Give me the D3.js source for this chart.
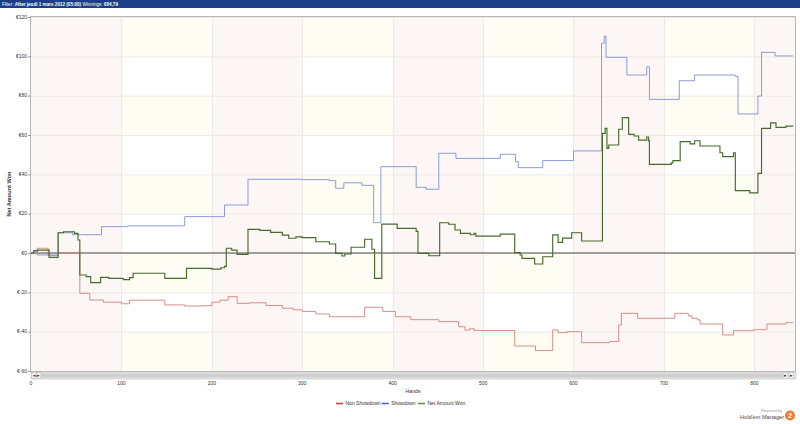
<!DOCTYPE html>
<html><head><meta charset="utf-8">
<script src="https://cdn.jsdelivr.net/npm/d3@7"></script>
<style>body{margin:0;background:#fff;}svg{display:block;font-family:"Liberation Sans",Arial,sans-serif;}</style>
</head><body>
<svg id="c" width="800" height="424"></svg>
<script>
// ---- data ----
const yTicks = [120, 100, 80, 60, 40, 20, 0, -20, -40, -60];
const yTickLabels = ["€120","€100","€80","€60","€40","€20","€0","€-20","€-40","€-60"];
const xTicks = [0, 100, 200, 300, 400, 500, 600, 700, 800];
const seriesNames = ["Non Showdown", "Showdown", "Net Amount Won"];

const nsHands = [0,7,19,30,54,65,80,100,109,148,170,188,200,209,218,228,242,260,278,290,300,315,330,369,389,403,420,451,473,480,485,490,535,558,577,583,593,609,640,650,653,671,712,727,731,737,740,765,777,799,814,835,843];
const nsValues = [0,2.4,-1.3,0.2,-20.5,-23.9,-25,-25.8,-24,-26.4,-27,-26.8,-25,-24,-22.2,-25.6,-25.3,-26.7,-28.1,-28.9,-29.7,-31,-32.4,-27.6,-29.7,-32.4,-33.9,-34.9,-37.5,-39.2,-38.5,-39.4,-47.3,-49.6,-39.1,-40.5,-40,-45.6,-45,-36.6,-30.7,-33.2,-30.7,-32,-33.2,-34,-36.1,-41.7,-39.5,-39,-36.1,-35.4,-35.4];

const sdHands = [0,3,7,30,46,78,107,170,214,240,300,330,337,346,366,379,387,426,437,451,470,519,536,539,566,600,631,634,636,659,681,684,717,734,779,782,804,808,823,843];
const sdValues = [0,1,-1,10.3,9.3,13.4,13.8,18.5,24.4,37.5,37.3,36.8,32.9,35.7,34.4,15.4,43.9,33.4,32.4,50.7,48.1,50.2,46.4,43.4,47,51.9,106.6,110.3,99.5,90.5,94.7,78.1,87.6,90.5,89.8,70.7,79.8,102,100.2,100.2];

const netHands = [0,3,7,20,30,36,48,52,54,61,66,77,86,102,109,113,148,172,200,210,214,216,222,228,240,253,265,278,285,293,300,315,330,337,344,347,354,369,377,380,388,405,426,428,440,452,462,469,475,486,490,492,519,535,541,543,557,566,577,583,588,598,609,632,635,637,639,650,654,661,667,672,681,683,684,708,710,718,729,734,740,762,765,777,779,795,804,808,818,824,835,843];
const netValues = [0,1.2,1.5,-2.2,10.3,10.8,10,6.6,-11.2,-12,-15.1,-12.4,-12.9,-13.5,-12.5,-10.3,-12.9,-7.8,-8.2,-7.5,-6.8,2.4,1.5,-0.7,12,11.5,10.5,9.1,7.5,8.2,7.8,5.7,4.6,-0.2,-1.5,-0.5,2.9,7,1.9,-12.9,14.7,12.5,11,-0.2,-1.4,15.4,14.6,11.7,10,9.3,10,8.6,9.6,0.2,-1,-2.7,-5.6,-1.9,9.2,5.4,7.6,10.3,6.1,60.8,63.4,53.2,54.9,62.9,68.8,60.3,59.5,57.4,59,57,45.1,45.8,47,56.6,55.5,57.1,54.4,51,49,51,31.7,30.6,40.5,63.4,66.2,63.9,64.5,64.5];

// ---- layout ----
const svg = d3.select("#c");
const L = 31, R = 795, T = 17, B = 371;
const x = d3.scaleLinear().domain([0, 845]).range([L, R]);
const y = d3.scaleLinear().domain([-60, 120]).range([B, T]);

// header bar
svg.append("rect").attr("x",0).attr("y",0).attr("width",800).attr("height",8).attr("fill","#1b3f86");
const ht = svg.append("text").attr("x",2).attr("y",5.8).attr("font-size",4.6).attr("fill","#fff");
ht.append("tspan").text("Filter: ");
ht.append("tspan").attr("font-weight","bold").text("After jeudi 1 mars 2012 (05:00)");
ht.append("tspan").text(" Winnings: ");
ht.append("tspan").attr("font-weight","bold").text("€64,79");

// background bands
const g = svg.append("g");
g.append("rect").attr("x",L).attr("y",T).attr("width",R-L).attr("height",B-T).attr("fill","#fff");
const colStarts = [0, 100, 200, 300, 400, 500, 600, 700, 800];
const rowStarts = d3.range(-60, 120, 20).filter((d,i)=> i % 2 === 0);
colStarts.forEach((c,ci)=>{
  const x0 = x(c), x1 = x(Math.min(c+100, 845));
  if (ci % 2 === 0) {
    g.append("rect").attr("x",x0).attr("y",T).attr("width",x1-x0).attr("height",B-T).attr("fill","#fcf7f4");
  } else {
    g.selectAll(null).data(rowStarts).join("rect")
      .attr("x",x0).attr("width",x1-x0)
      .attr("y", d => y(d+20)).attr("height", d => y(d) - y(d+20))
      .attr("fill","#fdfdf4");
  }
});

// grid
g.selectAll("line.hg").data(yTicks).join("line").attr("class","hg")
  .attr("x1",L).attr("x2",R).attr("y1",d=>y(d)+0.5).attr("y2",d=>y(d)+0.5)
  .attr("stroke","#eceae7").attr("stroke-width",1);
g.selectAll("line.vg").data(xTicks.slice(1)).join("line").attr("class","vg")
  .attr("y1",T).attr("y2",B).attr("x1",d=>Math.round(x(d))+0.5).attr("x2",d=>Math.round(x(d))+0.5)
  .attr("stroke","#eceae7").attr("stroke-width",1);

// zero line
g.append("line").attr("x1",L).attr("x2",R).attr("y1",y(0)).attr("y2",y(0))
  .attr("stroke","#4a4a4a").attr("stroke-width",1.2);

// border
g.append("rect").attr("x",L-0.5).attr("y",T-0.5).attr("width",R-L+1).attr("height",B-T+1)
  .attr("fill","none").attr("stroke","#b8b8b8").attr("stroke-width",1);

// y axis labels and ticks
g.selectAll("line.yt").data(yTicks).join("line").attr("class","yt")
  .attr("x1",L-3).attr("x2",L).attr("y1",d=>y(d)+0.5).attr("y2",d=>y(d)+0.5).attr("stroke","#999");
g.selectAll("text.yl").data(yTicks).join("text").attr("class","yl")
  .attr("x",L-4).attr("y",d=>y(d)+1.8).attr("text-anchor","end")
  .attr("font-size",5).attr("fill","#333").text((d,i)=>yTickLabels[i]);
svg.append("text").attr("transform",`translate(11,${(T+B)/2}) rotate(-90)`)
  .attr("text-anchor","middle").attr("font-size",5.6).attr("font-weight","bold").attr("fill","#333")
  .text("Net Amount Won");

// scrollbar
const sb = svg.append("g");
sb.append("rect").attr("x",L).attr("y",372).attr("width",R-L+1).attr("height",7).attr("fill","#e4e4e4").attr("stroke","#c4c4c4").attr("stroke-width",0.6);
sb.append("rect").attr("x",L+10).attr("y",373.5).attr("width",R-L-22).attr("height",4).attr("fill","#cfcfcf");
[[L+1,"◂"],[L+5.5,"▸"],[R-12,"▸"],[R-6,"▸"]].forEach(([bx,t])=>{
  sb.append("rect").attr("x",bx).attr("y",372.8).attr("width",4.5).attr("height",5.5).attr("fill","#f4f4f4").attr("stroke","#aaa").attr("stroke-width",0.4);
  sb.append("text").attr("x",bx+2.25).attr("y",377.2).attr("text-anchor","middle").attr("font-size",4.5).attr("fill","#333").text(t);
});

// x axis labels
svg.selectAll("text.xl").data(xTicks).join("text").attr("class","xl")
  .attr("x",d=>x(d)).attr("y",385).attr("text-anchor","middle")
  .attr("font-size",5).attr("fill","#333").text(d=>d);
svg.append("text").attr("x",(L+R)/2).attr("y",393).attr("text-anchor","middle")
  .attr("font-size",5.2).attr("fill","#333").text("Hands");

// lines
const line = d3.line().x(d=>x(d[0])).y(d=>y(d[1])).curve(d3.curveStepAfter);
const series = [
  {h: nsHands, v: nsValues, color:"#d8807d", w:0.9},
  {h: sdHands, v: sdValues, color:"#8090d6", w:0.9},
  {h: netHands, v: netValues, color:"#466a2c", w:1.15}
];
series.forEach(s=>{
  svg.append("path").datum(s.h.map((h,i)=>[h, s.v[i]]))
    .attr("d", line).attr("fill","none").attr("stroke", s.color).attr("stroke-width", s.w);
});

// legend
const legColors = ["#c8413f","#4a64c6","#5b9a3d"];
const legX = [336, 381.7, 418];
seriesNames.forEach((n,i)=>{
  svg.append("line").attr("x1",legX[i]).attr("x2",legX[i]+7).attr("y1",403.5).attr("y2",403.5)
    .attr("stroke",legColors[i]).attr("stroke-width",1.6);
  svg.append("text").attr("x",legX[i]+9.5).attr("y",405.3).attr("font-size",5).attr("fill","#333").text(n);
});

// logo
svg.append("text").attr("x",782).attr("y",412).attr("text-anchor","end").attr("font-size",4).attr("fill","#999").text("Powered by");
svg.append("text").attr("x",784).attr("y",419).attr("text-anchor","end").attr("font-size",5.6).attr("fill","#444").text("Hold'em Manager");
svg.append("circle").attr("cx",790).attr("cy",415.5).attr("r",5).attr("fill","#ee7d2b");
svg.append("text").attr("x",790).attr("y",418.3).attr("text-anchor","middle").attr("font-size",7.5).attr("font-weight","bold").attr("fill","#fff").text("2");
</script>
</body></html>
